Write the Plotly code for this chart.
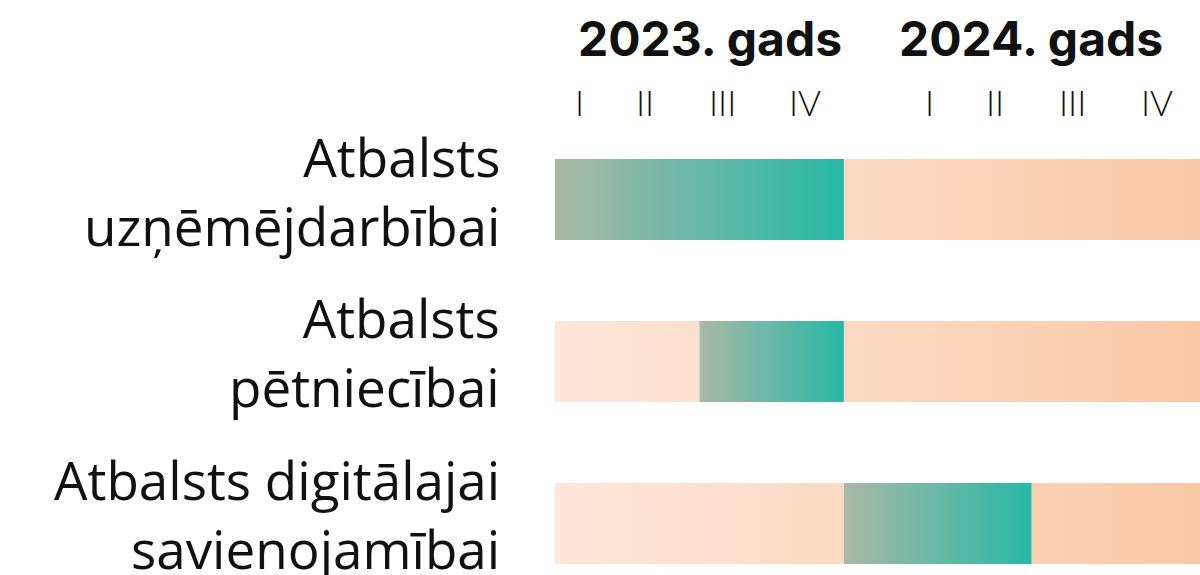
import plotly.graph_objects as go

# ---- data ----
rows = ["Atbalsts<br>uzņēmējdarbībai", "Atbalsts<br>pētniecībai", "Atbalsts digitālajai<br>savienojamībai"]
active_start = [0, 6, 12]      # months since Jan 2023
active_end = [12, 12, 19.8]
timeline_end = 27
years = ["2023. gads", "2024. gads"]
year_pos = [6.44, 19.79]
quarters = ["I", "II", "III", "IV", "I", "II", "III", "IV"]
quarter_pos = [1.0, 3.74, 6.94, 10.4, 15.57, 18.27, 21.5, 25.0]

PEACH = [[0, "#fde7da"], [1, "#f9c8a6"]]
GREEN = [[0, "#a9b8a5"], [1, "#27b8a6"]]
HALF = 0.25

fig = go.Figure()


def seg(a, b, r, scale, start=None, stop=None):
    fg = dict(type="horizontal", colorscale=scale)
    if start is not None:
        fg.update(start=start, stop=stop)
    fig.add_trace(go.Scatter(
        x=[a, b, b, a, a], y=[r - HALF, r - HALF, r + HALF, r + HALF, r - HALF],
        mode="lines", line=dict(width=0), fill="toself", fillgradient=fg,
        hoverinfo="skip", showlegend=False))


for i, (s, e) in enumerate(zip(active_start, active_end)):
    if s > 0:
        seg(0, s, i, PEACH, 0, timeline_end)
    seg(s, e, i, GREEN)
    seg(e, timeline_end, i, PEACH, 0, timeline_end)

for t, p in zip(years, year_pos):
    fig.add_annotation(x=p, y=1, xref="x", yref="paper", yshift=-38.5, text=t, showarrow=False,
                       xanchor="center", yanchor="middle",
                       font=dict(family="Inter", size=48, color="#111111", weight="bold"))
for t, p in zip(quarters, quarter_pos):
    fig.add_annotation(x=p, y=1, xref="x", yref="paper", yshift=-101.5, text=t, showarrow=False,
                       xanchor="center", yanchor="middle",
                       font=dict(family="Lato", size=35, color="#111111", weight=300))

# row labels, right-aligned, two lines each
for i, lab in enumerate(rows):
    fig.add_annotation(x=0, y=i, xref="paper", yref="y", xshift=-53, yshift=9,
                       text=lab, showarrow=False, xanchor="right", yanchor="middle", align="right",
                       font=dict(family="Open Sans", size=53, color="#111111"))

fig.update_layout(
    width=1200, height=575,
    margin=dict(l=555, r=0, t=0, b=0, autoexpand=False),
    paper_bgcolor="white", plot_bgcolor="white",
    xaxis=dict(range=[0, 26.79], visible=False, fixedrange=True, automargin=False),
    yaxis=dict(range=[2.318, -1.2315], visible=False, fixedrange=True, automargin=False),
)

fig.write_html("out.html", config={"displayModeBar": False},
               post_script="document.body.style.margin='0';")
